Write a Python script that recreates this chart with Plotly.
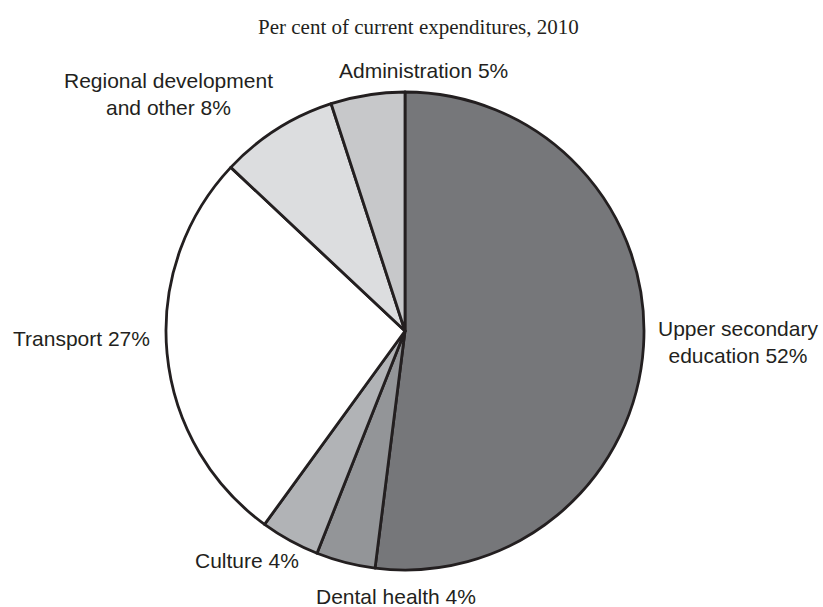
import plotly.graph_objects as go

# Shares of current expenditures, 2010 (per cent), clockwise from 12 o'clock
labels = ["Upper secondary education", "Dental health", "Culture",
          "Transport", "Regional development and other", "Administration"]
values = [52, 4, 4, 27, 8, 5]
colors = ["#76777a", "#939598", "#b1b3b6", "#ffffff", "#dcdddf", "#c7c8ca"]

# Label text broken across lines the way it is set on the page
label_lines = ["Upper secondary<br>education", "Dental health", "Culture",
               "Transport", "Regional development<br>and other", "Administration"]

W, H = 823, 607
cx, cy, r = 405, 331, 239

fig = go.Figure(go.Pie(
    labels=labels,
    values=values,
    sort=False,
    direction="clockwise",
    rotation=0,
    marker=dict(colors=colors, line=dict(color="#231f20", width=2.8)),
    textinfo="none",
    hoverinfo="label+percent",
    showlegend=False,
    domain=dict(x=[(cx - r) / W, (cx + r) / W],
                y=[(H - cy - r) / H, (H - cy + r) / H]),
))

# Label anchor positions (pixels from top-left) and alignment
label_pos = [
    (738, 342, "center"),   # Upper secondary education
    (396, 596, "center"),   # Dental health
    (247, 560, "center"),   # Culture
    (81, 338, "center"),    # Transport
    (168, 94, "center"),    # Regional development and other
    (424, 70, "center"),    # Administration
]

annotations = []
for txt, v, (x, y, al) in zip(label_lines, values, label_pos):
    annotations.append(dict(
        text=f"{txt} {v}%",
        x=x / W, y=1 - y / H, xref="paper", yref="paper",
        xanchor="center", yanchor="middle", align=al,
        showarrow=False,
        font=dict(family="Liberation Sans, Arial, sans-serif", size=21, color="#231f20"),
    ))

annotations.append(dict(
    text="Per cent of current expenditures, 2010",
    x=418 / W, y=1 - 27 / H, xref="paper", yref="paper",
    xanchor="center", yanchor="middle", showarrow=False,
    font=dict(family="Liberation Serif, Times New Roman, serif", size=21, color="#231f20"),
))

fig.update_layout(
    width=W, height=H,
    margin=dict(l=0, r=0, t=0, b=0),
    paper_bgcolor="white",
    plot_bgcolor="white",
    annotations=annotations,
)

fig.write_html("out.html")
